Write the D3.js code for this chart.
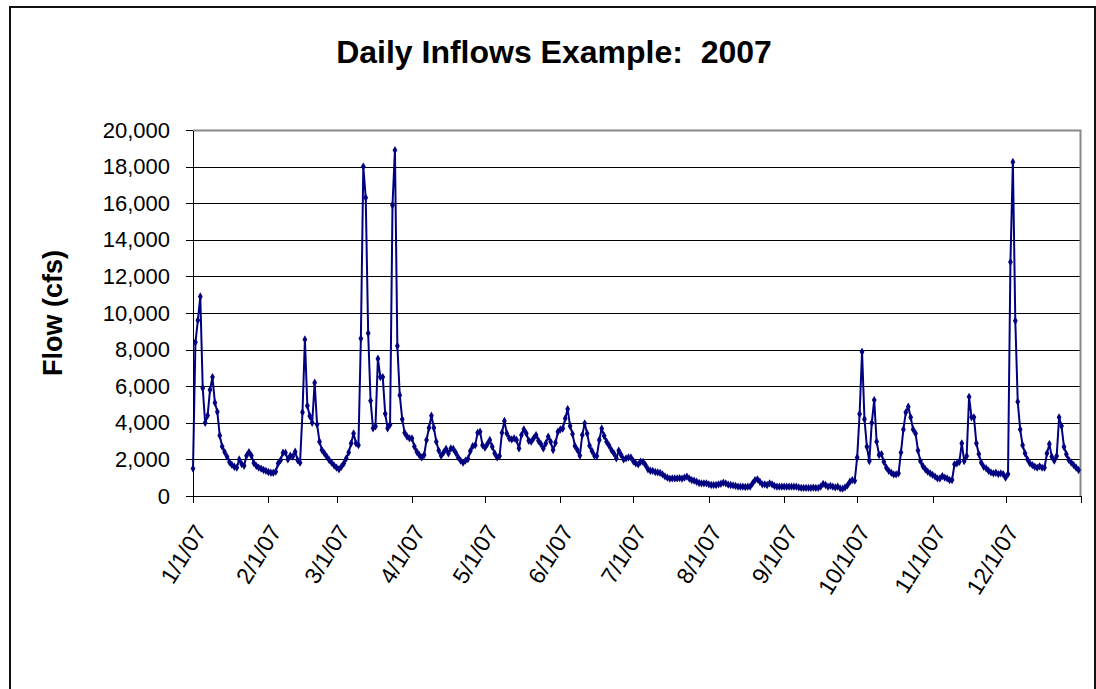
<!DOCTYPE html>
<html>
<head>
    <meta charset="utf-8">
    <script src="https://cdn.jsdelivr.net/npm/d3@7/dist/d3.min.js"></script>
</head>
<body style="margin:0;background:#fff">
    <style type="text/css">
        text {
            font-family: "Liberation Sans", Arial, sans-serif;
            fill: #000;
        }
        .axis path,
        .axis line {
            stroke: #000;
            shape-rendering: crispEdges;
        }
        .grid line {
            stroke: #000;
            shape-rendering: crispEdges;
        }
        .flow {
            fill: none;
            stroke: #000080;
            stroke-width: 2;
        }
        .dot {
            fill: #000080;
        }
    </style>
    <svg id="chart"></svg>
    <script>
        // daily flows (cfs), one array per month
        var jan = [1500, 8400, 9600, 10900, 5900, 4000, 4400, 5800, 6500, 5100, 4600, 3300, 2700, 2400, 2150, 1850,
            1700, 1600, 1550, 2000, 1750, 1650, 2200, 2400, 2200, 1800, 1650, 1550, 1500, 1420, 1370];
        var feb = [1310, 1270, 1270, 1330, 1780, 1960, 2370, 2370, 2000, 2200, 2150, 2420, 1960, 1820, 4570, 8550,
            4930, 4370, 4000, 6190, 3910, 2970, 2510, 2330, 2150, 1960, 1820, 1660];
        var mar = [1550, 1460, 1600, 1780, 2060, 2380, 2880, 3420, 2880, 2780, 8600, 18000, 16300, 8900, 5200, 3700,
            3800, 7500, 6500, 6500, 4500, 3700, 3900, 15900, 18900, 8200, 5500, 4200, 3450, 3250, 3150];
        var apr = [3150, 2700, 2420, 2240, 2110, 2240, 3060, 3730, 4390, 3730, 2970, 2480, 2200, 2380, 2570, 2330,
            2600, 2570, 2370, 2110, 1930, 1820, 1930, 2020, 2460, 2730, 2780, 3460, 3510, 2780];
        var may = [2640, 2840, 3060, 2690, 2330, 2110, 2180, 3460, 4100, 3420, 3150, 3090, 3150, 3060, 2600, 3330,
            3640, 3420, 3020, 2970, 3150, 3330, 3020, 2840, 2600, 2870, 3240, 2970, 2510, 2910, 3510];
        var jun = [3640, 3690, 4240, 4750, 3820, 3390, 2730, 2510, 2210, 3330, 3970, 3420, 2750, 2460, 2200, 2180,
            3060, 3690, 3280, 2970, 2760, 2510, 2330, 2060, 2480, 2240, 2000, 2060, 2110, 2110];
        var jul = [1900, 1780, 1730, 1870, 1860, 1690, 1460, 1380, 1370, 1310, 1290, 1260, 1180, 1070, 1000, 950,
            960, 960, 960, 980, 950, 1000, 1060, 950, 870, 840, 780, 710, 690, 690, 690];
        var aug = [640, 600, 600, 600, 640, 670, 730, 690, 620, 600, 580, 550, 510, 510, 510, 490,
            510, 510, 690, 870, 910, 780, 640, 640, 600, 690, 640, 550, 510, 510, 510];
        var sep = [510, 510, 510, 510, 510, 510, 470, 440, 440, 440, 440, 440, 460, 440, 440, 510,
            660, 600, 510, 550, 510, 470, 510, 420, 400, 470, 580, 780, 870, 840];
        var oct = [2110, 4480, 7880, 4200, 2690, 1910, 4000, 5240, 2970, 2240, 2290, 1860, 1550, 1370, 1270, 1180,
            1180, 1240, 2380, 3640, 4570, 4880, 4300, 3640, 3420, 2480, 1910, 1640, 1460, 1330, 1240];
        var nov = [1150, 1060, 960, 960, 1090, 1000, 960, 870, 870, 1730, 1780, 1870, 2880, 1910, 2180, 5420,
            4300, 4300, 2880, 2290, 1820, 1600, 1510, 1380, 1290, 1240, 1270, 1200, 1240, 1200];
        var dec = [1000, 1200, 12790, 18250, 9570, 5150, 3640, 2780, 2330, 2000, 1780, 1690, 1600, 1550, 1620, 1550,
            1550, 2330, 2840, 2150, 1930, 2180, 4300, 3820, 2690, 2280, 1970, 1820, 1690, 1550, 1420];

        var yTicks = [0, 2000, 4000, 6000, 8000, 10000, 12000, 14000, 16000, 18000, 20000];
        var xTickLabels = ["1/1/07", "2/1/07", "3/1/07", "4/1/07", "5/1/07", "6/1/07", "7/1/07", "8/1/07",
            "9/1/07", "10/1/07", "11/1/07", "12/1/07", ""];

        var flows = [].concat(jan, feb, mar, apr, may, jun, jul, aug, sep, oct, nov, dec);
        var data = flows.map(function(v, i) {
            return { date: new Date(2007, 0, 1 + i), value: v };
        });

        var margin = { top: 130, left: 193, right: 15, bottom: 193 },
            width = 1096 - margin.left - margin.right,
            height = 689 - margin.top - margin.bottom;

        var root = d3.select("#chart")
            .attr("width", 1096)
            .attr("height", 689);

        // outer chart border
        root.append("rect")
            .attr("x", 10)
            .attr("y", 7)
            .attr("width", 1085)
            .attr("height", 700)
            .attr("fill", "none")
            .attr("stroke", "#111")
            .attr("stroke-width", 2);

        root.append("text")
            .attr("x", 554)
            .attr("y", 63)
            .attr("text-anchor", "middle")
            .style("font-size", "32px")
            .style("font-weight", "bold")
            .style("white-space", "pre")
            .text("Daily Inflows Example:  2007");

        var svg = root.append("g")
            .attr("transform", "translate(" + margin.left + "," + margin.top + ")");

        var x = d3.scaleTime()
            .domain([new Date(2007, 0, 1), new Date(2008, 0, 1)])
            .range([0, width]);

        var y = d3.scaleLinear()
            .domain([0, 20000])
            .range([height, 0]);

        // gridlines
        svg.append("g")
            .attr("class", "grid")
            .selectAll("line")
            .data(yTicks.slice(1))
            .enter()
            .append("line")
            .attr("x1", 0)
            .attr("x2", width)
            .attr("y1", function(d) { return Math.round(y(d)) + 0.5; })
            .attr("y2", function(d) { return Math.round(y(d)) + 0.5; })
            .attr("stroke-width", 1);

        // plot area border (top/right)
        svg.append("path")
            .attr("d", "M0," + 0.5 + "H" + (width - 0.5) + "V" + height)
            .attr("fill", "none")
            .attr("stroke", "#888")
            .attr("stroke-width", 2);

        var line = d3.line()
            .x(function(d) { return x(d.date); })
            .y(function(d) { return y(d.value); });

        svg.append("path")
            .datum(data)
            .attr("class", "flow")
            .attr("d", line);

        svg.selectAll(".dot")
            .data(data)
            .enter()
            .append("path")
            .attr("class", "dot")
            .attr("d", d3.symbol().type(d3.symbolDiamond).size(20))
            .attr("transform", function(d) {
                return "translate(" + x(d.date) + "," + y(d.value) + ")";
            });

        var yAxis = d3.axisLeft(y)
            .tickValues(yTicks)
            .tickFormat(d3.format(","))
            .tickSize(7)
            .tickSizeOuter(0)
            .tickPadding(16);

        svg.append("g")
            .attr("class", "axis")
            .call(yAxis)
            .selectAll("text")
            .style("font-size", "22px");

        var monthTicks = d3.timeMonth.range(new Date(2007, 0, 1), new Date(2008, 0, 2));

        var xAxis = d3.axisBottom(x)
            .tickValues(monthTicks)
            .tickFormat(function(d, i) { return xTickLabels[i]; })
            .tickSize(7)
            .tickSizeOuter(0);

        svg.append("g")
            .attr("class", "axis")
            .attr("transform", "translate(0," + height + ")")
            .call(xAxis)
            .selectAll("text")
            .style("font-size", "23px")
            .style("text-anchor", "end")
            .attr("dx", "0")
            .attr("dy", "0")
            .attr("transform", "translate(5,30) rotate(-58)");

        svg.append("text")
            .attr("transform", "rotate(-90)")
            .attr("x", -height / 2)
            .attr("y", -margin.left + 62)
            .attr("text-anchor", "middle")
            .style("font-size", "27px")
            .style("font-weight", "bold")
            .text("Flow (cfs)");
    </script>
</body>
</html>
